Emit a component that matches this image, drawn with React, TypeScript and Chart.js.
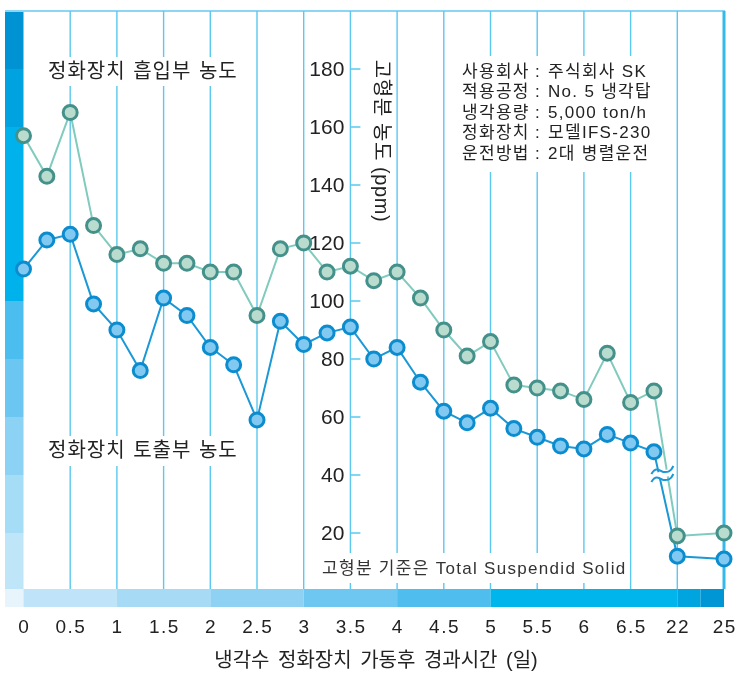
import React, { useEffect, useRef } from 'react';
import { Chart, registerables } from 'chart.js';

Chart.register(...registerables);

// ---- data ----
const days = [0, 0.25, 0.5, 0.75, 1, 1.25, 1.5, 1.75, 2, 2.25, 2.5, 2.75, 3, 3.25, 3.5, 3.75, 4, 4.25, 4.5, 4.75, 5, 5.25, 5.5, 5.75, 6, 6.25, 6.5, 6.75, 22, 25];
const inletValues = [157, 143, 165, 126, 116, 118, 113, 113, 110, 110, 95, 118, 120, 110, 112, 107, 110, 101, 90, 81, 86, 71, 70, 69, 66, 82, 65, 69, 19, 20];
const outletValues = [111, 121, 123, 99, 90, 76, 101, 95, 84, 78, 59, 93, 85, 89, 91, 80, 84, 72, 62, 58, 63, 56, 53, 50, 49, 54, 51, 48, 12, 11];
const xTickLabels = ['0', '0.5', '1', '1.5', '2', '2.5', '3', '3.5', '4', '4.5', '5', '5.5', '6', '6.5', '22', '25'];
const yTickValues = [20, 40, 60, 80, 100, 120, 140, 160, 180];
const infoLabels = ['사용회사', '적용공정', '냉각용량', '정화장치', '운전방법'];
const infoValues = ['주식회사 SK', 'No. 5 냉각탑', '5,000 ton/h', '모델IFS-230', '2대 병렬운전'];
const inletName = '정화장치 흡입부 농도';
const outletName = '정화장치 토출부 농도';
const yTitle = '고형분 농도 (ppm)';
const xTitle = '냉각수 정화장치 가동후 경과시간 (일)';
const noteText = '고형분 기준은 Total Suspendid Solid';

// broken axis: days up to 6.75 are linear (0.5 day per slot), later days sit on their own tick slot
const axisPos = (d: number) => (d <= 6.75 ? d * 2 : xTickLabels.indexOf(String(d)));

const FONT = '"Liberation Sans", "Noto Sans CJK KR", sans-serif';
const GRID = '#5ac8ef';

const decorPlugin = {
  id: 'decor',
  beforeDatasetsDraw(chart: any) {
    const { ctx, chartArea } = chart;
    const x = chart.scales.x;
    const y = chart.scales.y;
    const top = chartArea.top;
    const y0 = y.getPixelForValue(0);
    const stripTop = y0 - 2;
    const stripBottom = y0 + 16;
    const leftEdge = 5;
    ctx.save();

    // left strip
    const bands: [number, number, string][] = [
      [180, 200, '#0093d3'], [160, 180, '#00a3df'], [100, 160, '#00b2eb'], [80, 100, '#4cbdef'],
      [60, 80, '#6bc7f2'], [40, 60, '#8bd2f4'], [20, 40, '#a5dcf6'], [0, 20, '#bfe5f8'],
    ];
    bands.forEach(([a, b, c]) => {
      const yt = y.getPixelForValue(b);
      const yb = a === 0 ? stripTop : y.getPixelForValue(a);
      ctx.fillStyle = c;
      ctx.fillRect(leftEdge, yt, chartArea.left - leftEdge, yb - yt);
    });

    // bottom strip
    ctx.fillStyle = '#e7f4fc';
    ctx.fillRect(leftEdge, stripTop, chartArea.left - leftEdge, stripBottom - stripTop);
    const bBands: [number, number, string][] = [
      [0, 2, '#bfe3f8'], [2, 4, '#a7daf5'], [4, 6, '#8ed1f3'], [6, 8, '#6dc7f1'],
      [8, 10, '#4fbeee'], [10, 14, '#00b4ec'], [14, 14.5, '#00a4df'], [14.5, 15, '#0096d5'],
    ];
    bBands.forEach(([a, b, c]) => {
      const xl = x.getPixelForValue(a);
      const xr = x.getPixelForValue(b);
      ctx.fillStyle = c;
      ctx.fillRect(xl, stripTop, xr - xl, stripBottom - stripTop);
    });

    // top frame
    ctx.strokeStyle = '#8ad6f4';
    ctx.lineWidth = 2;
    ctx.beginPath();
    ctx.moveTo(leftEdge, top);
    ctx.lineTo(x.getPixelForValue(15) + 1, top);
    ctx.stroke();

    // vertical grid
    ctx.strokeStyle = GRID;
    ctx.lineWidth = 1.4;
    for (let i = 1; i < xTickLabels.length - 1; i++) {
      const px = x.getPixelForValue(i);
      ctx.beginPath();
      ctx.moveTo(px, top);
      ctx.lineTo(px, stripTop);
      ctx.stroke();
    }
    // right border
    ctx.strokeStyle = '#34b9ec';
    ctx.lineWidth = 3;
    const rx = x.getPixelForValue(15);
    ctx.beginPath();
    ctx.moveTo(rx, top);
    ctx.lineTo(rx, stripTop);
    ctx.stroke();

    // white boxes behind texts
    ctx.fillStyle = '#ffffff';
    ctx.fillRect(44, 57, 194, 29);
    ctx.fillRect(44, 436, 194, 30);
    ctx.fillRect(455, 56, 208, 116);
    ctx.fillRect(318, 553, 312, 30);

    // y axis ticks (axis sits on the 3.5 grid line)
    const ax = x.getPixelForValue(7);
    ctx.strokeStyle = GRID;
    ctx.lineWidth = 1.5;
    ctx.fillStyle = '#222';
    ctx.font = `21px ${FONT}`;
    ctx.textAlign = 'right';
    ctx.textBaseline = 'middle';
    yTickValues.forEach((v) => {
      const py = y.getPixelForValue(v);
      ctx.beginPath();
      ctx.moveTo(ax, py);
      ctx.lineTo(ax + 10, py);
      ctx.stroke();
      ctx.fillText(String(v), ax - 6, py + 1);
    });

    // y title (rotated)
    ctx.save();
    ctx.translate(ax + 30, 141);
    ctx.rotate(Math.PI / 2);
    ctx.textAlign = 'center';
    ctx.font = `20px ${FONT}`;
    (ctx as any).letterSpacing = '0.6px';
    ctx.fillText(yTitle, 0, 0);
    ctx.restore();

    // series labels
    ctx.textAlign = 'left';
    ctx.font = `20px ${FONT}`;
    (ctx as any).letterSpacing = '1px';
    (ctx as any).wordSpacing = '1px';
    ctx.fillText(inletName, 48, 72);
    ctx.fillText(outletName, 48, 451);
    (ctx as any).wordSpacing = '0px';

    // info block
    ctx.font = `17px ${FONT}`;
    (ctx as any).letterSpacing = '1.3px';
    infoLabels.forEach((lab, i) => {
      const py = 72 + i * 20.5;
      ctx.textAlign = 'left';
      ctx.fillText(lab, 462, py);
      ctx.textAlign = 'center';
      ctx.fillText(':', 538, py);
      ctx.textAlign = 'left';
      ctx.fillText(infoValues[i], 548, py);
    });

    // note
    ctx.fillStyle = '#333';
    ctx.font = `17px ${FONT}`;
    (ctx as any).letterSpacing = '1.3px';
    ctx.fillText(noteText, 322, 569);

    // x tick labels
    ctx.fillStyle = '#222';
    ctx.font = `19px ${FONT}`;
    (ctx as any).letterSpacing = '1.5px';
    ctx.textAlign = 'center';
    xTickLabels.forEach((lab, i) => {
      ctx.fillText(lab, x.getPixelForValue(i) + 0.75, 628);
    });
    (ctx as any).letterSpacing = '0px';
    // x title
    ctx.font = `20px ${FONT}`;
    (ctx as any).wordSpacing = '3px';
    ctx.fillText(xTitle, 376, 661);
    (ctx as any).wordSpacing = '0px';

    ctx.restore();
  },
  afterDatasetsDraw(chart: any) {
    const { ctx } = chart;
    const x = chart.scales.x;
    const y = chart.scales.y;
    const cx = x.getPixelForValue(13.68);
    const cy = y.getPixelForValue(40);
    ctx.save();
    const tilde = (ox: number, oy: number) => {
      ctx.beginPath();
      ctx.moveTo(ox - 11, oy + 3);
      ctx.bezierCurveTo(ox - 6, oy - 6, ox - 1, oy + 1, ox + 1, oy + 1);
      ctx.bezierCurveTo(ox + 4, oy + 1, ox + 8, oy + 2, ox + 11, oy - 5);
    };
    // gap between the two strokes
    ctx.fillStyle = '#ffffff';
    ctx.beginPath();
    ctx.moveTo(cx - 10, cy - 1);
    ctx.lineTo(cx + 10, cy - 7);
    ctx.lineTo(cx + 10, cy);
    ctx.lineTo(cx - 10, cy + 6);
    ctx.closePath();
    ctx.fill();
    ctx.strokeStyle = '#1b98d6';
    ctx.lineWidth = 2;
    tilde(cx, cy - 4);
    ctx.stroke();
    tilde(cx, cy + 4);
    ctx.stroke();
    ctx.restore();
  },
};

export default function App() {
  const ref = useRef<HTMLCanvasElement | null>(null);
  useEffect(() => {
    if (!ref.current) return;
    const chart = new Chart(ref.current, {
      type: 'line',
      data: {
        datasets: [
          {
            label: inletName,
            data: days.map((d, i) => ({ x: axisPos(d), y: inletValues[i] })),
            borderColor: '#80cbbe',
            borderWidth: 2,
            pointBackgroundColor: '#b9dccf',
            pointBorderColor: '#43918a',
            pointBorderWidth: 3,
            pointRadius: 7,
            tension: 0,
            clip: false,
          },
          {
            label: outletName,
            data: days.map((d, i) => ({ x: axisPos(d), y: outletValues[i] })),
            borderColor: '#1b98d6',
            borderWidth: 2,
            pointBackgroundColor: '#82c9f1',
            pointBorderColor: '#0b8ccf',
            pointBorderWidth: 3,
            pointRadius: 7,
            tension: 0,
            clip: false,
          },
        ],
      },
      options: {
        animation: false,
        responsive: false,
        events: [],
        layout: { padding: { left: 23.5, right: 13, top: 11, bottom: 82 } },
        plugins: { legend: { display: false }, tooltip: { enabled: false } },
        scales: {
          x: { type: 'linear', min: 0, max: 15, display: false },
          y: { type: 'linear', min: 0, max: 200, display: false },
        },
      },
      plugins: [decorPlugin],
    } as any);
    return () => chart.destroy();
  }, []);
  return (
    <div style={{ position: 'absolute', left: 0, top: 0, width: 737, height: 673, background: '#fff' }}>
      <canvas ref={ref} width={737} height={673} style={{ display: 'block', width: 737, height: 673 }} />
    </div>
  );
}
